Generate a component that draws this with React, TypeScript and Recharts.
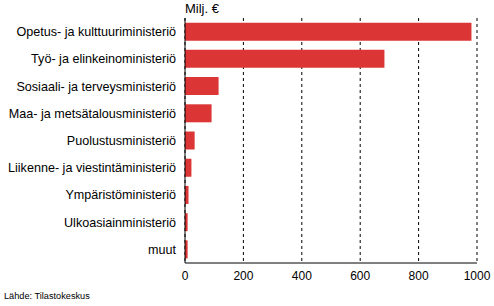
import { Bar, BarChart, CartesianGrid, XAxis, YAxis } from "recharts";

// Funding by ministry, million euros.
const ministries = [
  "Opetus- ja kulttuuriministeriö",
  "Työ- ja elinkeinoministeriö",
  "Sosiaali- ja terveysministeriö",
  "Maa- ja metsätalousministeriö",
  "Puolustusministeriö",
  "Liikenne- ja viestintäministeriö",
  "Ympäristöministeriö",
  "Ulkoasiainministeriö",
  "muut",
];
const amounts = [981, 683, 115, 91, 33, 22, 12, 9, 9];
const xTicks = [0, 200, 400, 600, 800, 1000];

const data = ministries.map((name, i) => ({ name, value: amounts[i] }));

const font = "'Liberation Sans', Arial, sans-serif";

// Single-line category label (the default tick wraps long names).
function MinistryTick(props: any) {
  const { x, y, payload } = props;
  return (
    <text
      x={x - 1}
      y={y}
      dy="0.36em"
      textAnchor="end"
      fill="#000000"
      fontSize={12.6}
      fontFamily={font}
    >
      {payload.value}
    </text>
  );
}

export default function App() {
  return (
    <div
      style={{
        position: "absolute",
        left: 0,
        top: 0,
        width: 494,
        height: 306,
        background: "#ffffff",
        fontFamily: font,
      }}
    >
      <BarChart
        width={494}
        height={306}
        data={data}
        layout="vertical"
        margin={{ top: 18, right: 17, bottom: 23, left: 0 }}
        barCategoryGap="17%"
      >
        <CartesianGrid
          horizontal={false}
          stroke="#000000"
          strokeDasharray="3 3"
        />
        <XAxis
          type="number"
          domain={[0, 1000]}
          ticks={xTicks}
          height={20}
          tickLine={false}
          axisLine={{ stroke: "#000000", strokeWidth: 1 }}
          tick={{ fill: "#000000", fontSize: 12, fontFamily: font }}
          interval={0}
        />
        <YAxis
          type="category"
          dataKey="name"
          width={185}
          tickLine={false}
          axisLine={{ stroke: "#000000", strokeWidth: 1 }}
          tick={(p: any) => <MinistryTick {...p} />}
          interval={0}
        />
        <Bar dataKey="value" fill="#dc3535" isAnimationActive={false} />
      </BarChart>
      <div
        style={{
          position: "absolute",
          left: 185,
          top: 1,
          fontSize: 13,
          color: "#000",
        }}
      >
        Milj. €
      </div>
      <div
        style={{
          position: "absolute",
          left: 4,
          top: 291,
          fontSize: 9.2,
          color: "#000",
        }}
      >
        Lähde: Tilastokeskus
      </div>
    </div>
  );
}
